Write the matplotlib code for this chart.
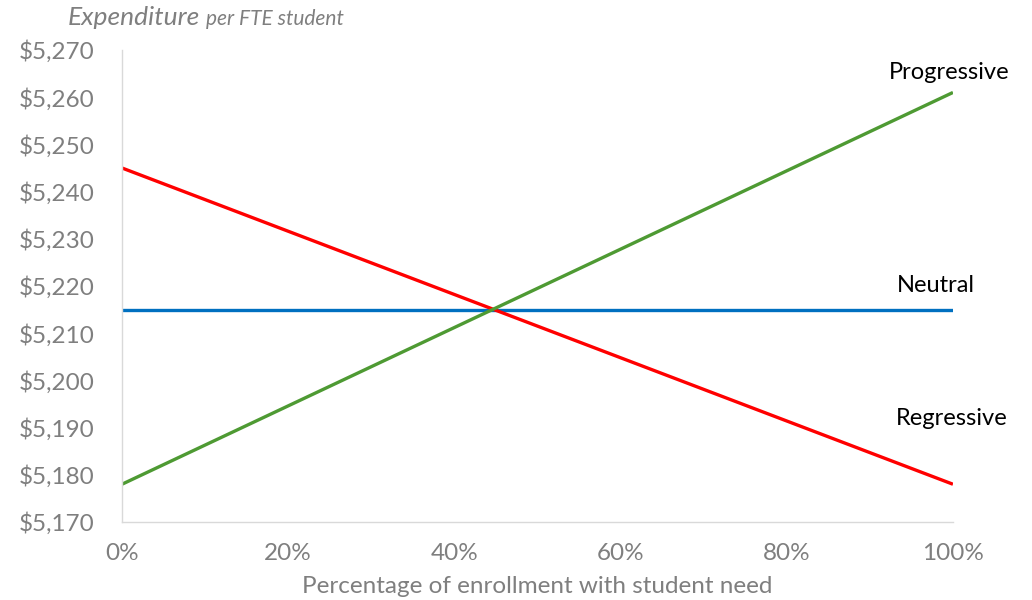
import matplotlib
matplotlib.use("Agg")
import matplotlib.pyplot as plt
from matplotlib.ticker import FuncFormatter

plt.rcParams['font.family'] = ['Lato', 'DejaVu Sans']

share = [0.0, 1.0]
progressive = [5178, 5261]
regressive = [5245, 5178]
neutral = [5215, 5215]
yticks = list(range(5170, 5271, 10))
xticks = [0.0, 0.2, 0.4, 0.6, 0.8, 1.0]

gray = '#7f7f7f'

fig = plt.figure(figsize=(10.32, 6), dpi=100)
ax = fig.add_axes([0.1182, 0.13, 0.8052, 0.7867])

ax.plot(share, neutral, color='#0070c0', lw=2.4, solid_capstyle='butt')
ax.plot(share, regressive, color='#ff0000', lw=2.4, solid_capstyle='butt')
ax.plot(share, progressive, color='#4e9a33', lw=2.4, solid_capstyle='butt')

ax.set_xlim(0, 1)
ax.set_ylim(5170, 5270)
ax.set_yticks(yticks)
ax.set_xticks(xticks)
ax.yaxis.set_major_formatter(FuncFormatter(lambda v, p: '${:,.0f}'.format(v)))
ax.xaxis.set_major_formatter(FuncFormatter(lambda v, p: '{:.0f}%'.format(v * 100)))
ax.tick_params(length=0, labelsize=17.5, labelcolor=gray)
ax.tick_params(axis='x', pad=15)
ax.tick_params(axis='y', pad=20)

for s in ['top', 'right']:
    ax.spines[s].set_visible(False)
for s in ['left', 'bottom']:
    ax.spines[s].set_color('#d9d9d9')
    ax.spines[s].set_linewidth(1)

ax.set_xlabel('Percentage of enrollment with student need', fontsize=17.5, color=gray, labelpad=9)

ax.text(1.0686, 5265.3, 'Progressive', ha='right', va='center', fontsize=17, color='black', clip_on=False)
ax.text(1.026, 5220, 'Neutral', ha='right', va='center', fontsize=17, color='black', clip_on=False)
ax.text(1.066, 5192, 'Regressive', ha='right', va='center', fontsize=17, color='black', clip_on=False)

t1 = fig.text(0.066, 0.958, 'Expenditure', fontsize=19, style='italic', color=gray, va='baseline')
fig.canvas.draw()
bb = t1.get_window_extent()
fig.text(bb.x1 / fig.bbox.width + 0.005, 0.958, 'per FTE student', fontsize=15,
         style='italic', color=gray, va='baseline')

fig.savefig('out.png', dpi=100)
